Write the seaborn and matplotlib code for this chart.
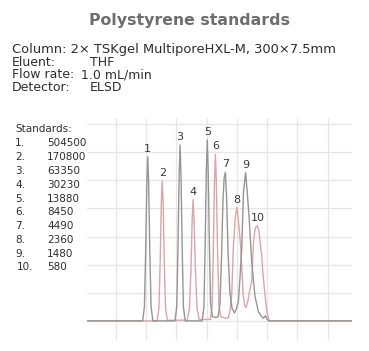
import pandas as pd
import matplotlib
matplotlib.use("Agg")
import matplotlib.pyplot as plt
import seaborn as sns

# -------------------------
# Data
# (x in grid units, y in grid units above baseline)
# -------------------------
# grey trace: standards 1, 3, 5, 7, 9
gray_x = [0.03, 1.88, 1.94, 1.98, 2.02, 2.05, 2.08, 2.12, 2.16, 2.22,
          2.95, 3.01, 3.05, 3.09, 3.12, 3.15, 3.19, 3.23, 3.29,
          3.85, 3.91, 3.95, 3.99, 4.02, 4.05, 4.09, 4.13, 4.19, 4.30, 4.38,
          4.44, 4.49, 4.54, 4.58, 4.62, 4.66, 4.71, 4.77, 4.84, 4.92,
          4.99, 5.05, 5.10, 5.16, 5.22, 5.29, 5.34, 5.40, 5.49, 5.60, 5.71,
          5.82, 5.88, 5.95, 6.00, 6.06, 8.80]
gray_y = [0.0, 0.0, 0.5, 2.4, 4.9, 5.84, 4.9, 2.4, 0.5, 0.0,
          0.0, 0.5, 2.6, 5.2, 6.26, 5.2, 2.6, 0.5, 0.0,
          0.0, 0.5, 2.7, 5.4, 6.44, 5.4, 2.7, 0.6, 0.15, 0.12, 0.15,
          0.6, 2.2, 4.3, 5.1, 5.29, 4.4, 2.4, 1.0, 0.45, 0.28,
          0.45, 0.69, 1.5, 2.59, 4.6, 5.27, 4.6, 3.77, 2.11, 0.87, 0.33,
          0.15, 0.10, 0.18, 0.05, 0.0, 0.0]

# red trace: standards 2, 4, 6, 8, 10
red_x = [0.03, 2.36, 2.42, 2.46, 2.50, 2.53, 2.56, 2.60, 2.64, 2.70,
         3.36, 3.43, 3.48, 3.52, 3.55, 3.58, 3.63, 3.68, 3.75,
         4.12, 4.18, 4.22, 4.26, 4.29, 4.32, 4.36, 4.41, 4.47, 4.60, 4.72,
         4.78, 4.83, 4.88, 4.95, 5.00, 5.05, 5.13, 5.21, 5.26, 5.30,
         5.36, 5.43, 5.49, 5.55, 5.60, 5.64, 5.68, 5.73, 5.78, 5.82,
         5.86, 5.91, 5.99, 6.07, 8.80]
red_y = [0.0, 0.0, 0.45, 2.0, 4.2, 4.98, 4.2, 2.0, 0.45, 0.02,
         0.03, 0.45, 1.8, 3.6, 4.31, 3.6, 1.8, 0.45, 0.05,
         0.05, 0.5, 2.5, 5.0, 5.93, 5.0, 2.5, 0.5, 0.15, 0.10, 0.12,
         0.4, 0.93, 2.59, 3.7, 4.03, 3.6, 2.59, 0.93, 0.55, 0.47,
         0.7, 1.1, 1.40, 2.82, 3.24, 3.36, 3.38, 3.2, 2.7, 2.35,
         1.7, 1.16, 0.33, 0.0, 0.0]

peak_ids = ["1", "2", "3", "4", "5", "6", "7", "8", "9", "10"]
peak_x = [2.05, 2.53, 3.12, 3.55, 4.02, 4.29, 4.62, 5.00, 5.29, 5.68]
peak_y = [5.84, 4.98, 6.26, 4.31, 6.44, 5.93, 5.29, 4.03, 5.27, 3.38]

standard_no = ["1.", "2.", "3.", "4.", "5.", "6.", "7.", "8.", "9.", "10."]
standard_mw = ["504500", "170800", "63350", "30230", "13880",
               "8450", "4490", "2360", "1480", "580"]

header_keys = ["Column: 2\u00d7 TSKgel MultiporeHXL-M, 300\u00d77.5mm",
               "Eluent:", "Flow rate:", "Detector:"]
header_vals = ["", "THF", "1.0 mL/min", "ELSD"]

x_grid = [1, 2, 3, 4, 5, 6, 7, 8]
y_grid = [0, 1, 2, 3, 4, 5, 6, 7]

# -------------------------
# Figure
# -------------------------
sns.set_theme(style="white")
plt.rcParams["font.family"] = ["DejaVu Sans"]

W, H = 369, 351
fig = plt.figure(figsize=(W / 100, H / 100), dpi=100)
ax = fig.add_axes([86.7 / W, 1 - 340 / H, (351.7 - 86.7) / W, (340 - 118) / H])

gray_df = pd.DataFrame({"x": gray_x, "y": gray_y})
red_df = pd.DataFrame({"x": red_x, "y": red_y})

sns.lineplot(data=red_df, x="x", y="y", sort=False, estimator=None,
             color="#dba5a8", linewidth=1.0, ax=ax, zorder=3)
sns.lineplot(data=gray_df, x="x", y="y", sort=False, estimator=None,
             color="#959595", linewidth=1.0, ax=ax, zorder=4)

for lab, px, py in zip(peak_ids, peak_x, peak_y):
    ax.annotate(lab, (px, py), xytext=(0, 2), textcoords="offset points",
                ha="center", va="bottom", fontsize=8, color="#3a3a3a")

ax.set_xlim(0.03, 8.8)
ax.set_ylim(-0.68, 7.22)
ax.set_xticks(x_grid)
ax.set_yticks(y_grid)
ax.grid(True, color="#e6e6e6", linewidth=0.9)
ax.tick_params(left=False, bottom=False, labelleft=False, labelbottom=False)
ax.set_xlabel("")
ax.set_ylabel("")
for s in ax.spines.values():
    s.set_visible(False)

# title and method text
fig.text(189.5 / W, 1 - 20 / H, "Polystyrene standards", ha="center", va="center",
         fontsize=11.3, fontweight="bold", color="#6e6e6e")

head_y = [50, 62.5, 75, 87.5]
head_size = [9.4, 9.0, 9.0, 9.0]
for key, yy, fs in zip(header_keys, head_y, head_size):
    fig.text(12 / W, 1 - yy / H, key, ha="left", va="center", fontsize=fs, color="#2e2e2e")
val_x = [0, 90, 81, 90]
for val, xx, yy in zip(header_vals, val_x, head_y):
    if val:
        fig.text(xx / W, 1 - yy / H, val, ha="left", va="center", fontsize=9.0, color="#2e2e2e")

fig.text(15 / W, 1 - 129 / H, "Standards:", ha="left", va="center", fontsize=7.5, color="#2e2e2e")
for i, (no, mw) in enumerate(zip(standard_no, standard_mw)):
    yy = 143.3 + i * 13.8
    fig.text((15 if i < 9 else 16.5) / W, 1 - yy / H, no, ha="left", va="center",
             fontsize=7.5, color="#2e2e2e")
    fig.text(47 / W, 1 - yy / H, mw, ha="left", va="center", fontsize=7.5, color="#2e2e2e")

fig.savefig("out.png", dpi=100)
